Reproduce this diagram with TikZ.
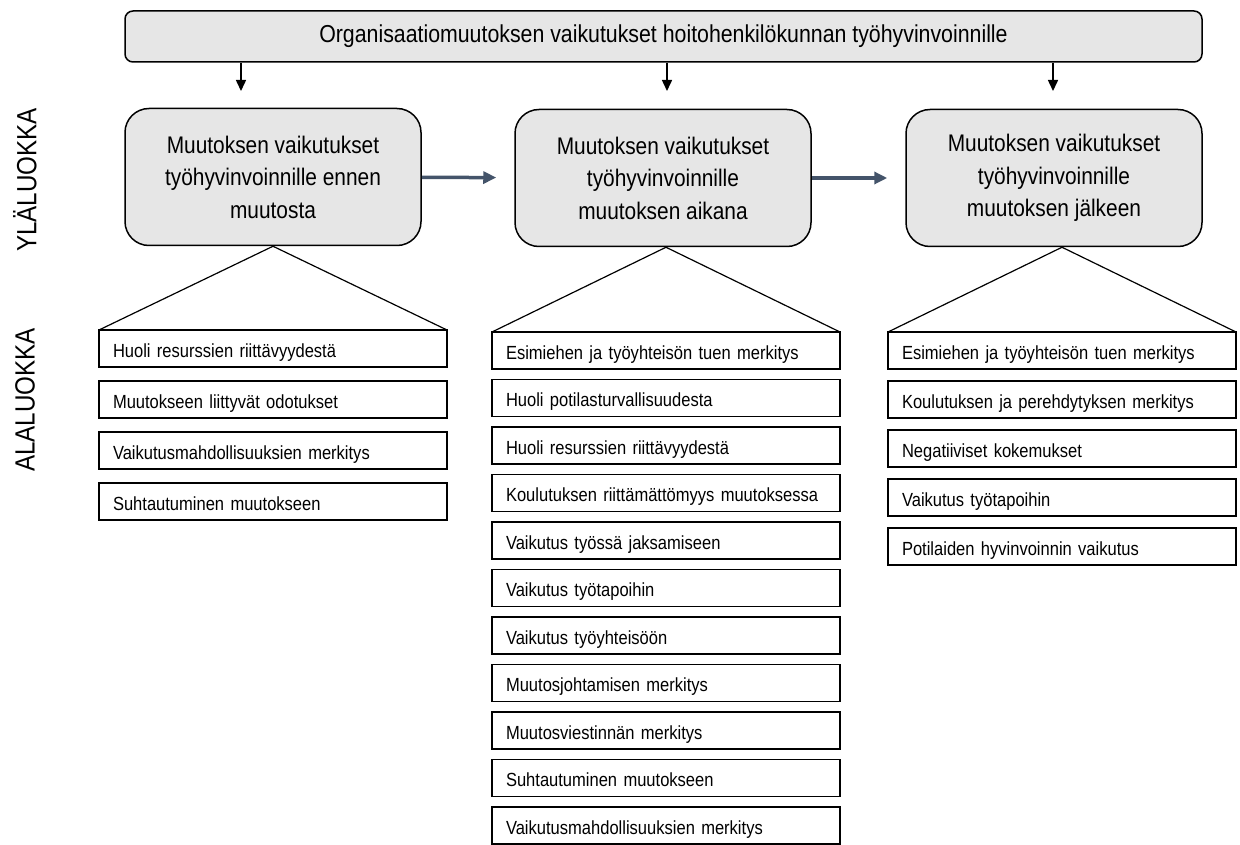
\documentclass[tikz,border=0pt]{standalone}
\usepackage{fontspec}
\setmainfont{Liberation Sans}[FakeStretch=0.87]
\usetikzlibrary{positioning,arrows.meta}
\definecolor{boxgray}{RGB}{230,230,230}
\definecolor{flowslate}{RGB}{68,84,106}

\begin{document}
\begin{tikzpicture}[
    x=1pt, y=-1pt,
    node distance=10pt,
    topbox/.style={rectangle, draw, line width=1.5pt, rounded corners=8pt, fill=boxgray, minimum width=1077pt, minimum height=51pt, font=\fontsize{24.5}{28}\selectfont},
    mainbox/.style={rectangle, draw, line width=1.5pt, rounded corners=24pt, fill=boxgray, minimum width=296pt, minimum height=137pt, align=center, font=\fontsize{24}{32.5}\selectfont},
    subbox/.style={rectangle, draw, line width=1.4pt, outer sep=0pt, text width=320pt, inner xsep=14pt, inner ysep=0pt, text height=17pt, text depth=0pt, minimum height=37pt, align=left, font=\fontsize{19}{23}\selectfont},
    sidelabel/.style={rotate=90, font=\fontsize{27.8}{31}\selectfont},
    stagearrow/.style={-{Triangle[length=13pt,width=12pt]}, line width=3.5pt, draw=flowslate, shorten >=18pt},
    droparrow/.style={-{Triangle[length=11pt,width=10pt]}, line width=1.5pt},
    fanline/.style={line width=1.2pt}
]
    \useasboundingbox (0,0) rectangle (1240,845);

    % Main theme
    \node[topbox] (top) at (663.5,36.5) {Organisaatiomuutoksen vaikutukset hoitohenkilökunnan työhyvinvoinnille};
    \coordinate (d1) at (241,91);
    \coordinate (d2) at (667,91);
    \coordinate (d3) at (1053,91);
    \draw[droparrow] (top.south -| d1) -- (d1);
    \draw[droparrow] (top.south -| d2) -- (d2);
    \draw[droparrow] (top.south -| d3) -- (d3);

    % Upper categories
    \node[mainbox] (before) at (273,177) {Muutoksen vaikutukset\\työhyvinvoinnille ennen\\muutosta};
    \node[mainbox] (during) at (663,178) {Muutoksen vaikutukset\\työhyvinvoinnille\\muutoksen aikana};
    \node[mainbox] (after) at (1054,178) {Muutoksen vaikutukset\\työhyvinvoinnille\\muutoksen jälkeen};
    \draw[stagearrow] (before) -- (during);
    \draw[stagearrow] (during) -- (after);

    % Side labels
    \node[sidelabel] (upperlabel) at (25,180) {YLÄLUOKKA};
    \node[sidelabel] (lowerlabel) at (25,400) {ALALUOKKA};

    % Subcategories before change
    \node[subbox, anchor=north] (bef1) at (273,330) {Huoli resurssien riittävyydestä};
    \node[subbox, below=14pt of bef1] (bef2) {Muutokseen liittyvät odotukset};
    \node[subbox, below=14pt of bef2] (bef3) {Vaikutusmahdollisuuksien merkitys};
    \node[subbox, below=14pt of bef3] (bef4) {Suhtautuminen muutokseen};
    \draw[fanline] (bef1.north west) -- (before.south -| bef1) -- (bef1.north east);

    % Subcategories during change
    \node[subbox, anchor=north] (dur1) at (666,332) {Esimiehen ja työyhteisön tuen merkitys};
    \node[subbox, below=10.5pt of dur1] (dur2) {Huoli potilasturvallisuudesta};
    \node[subbox, below=10.5pt of dur2] (dur3) {Huoli resurssien riittävyydestä};
    \node[subbox, below=10.5pt of dur3] (dur4) {Koulutuksen riittämättömyys muutoksessa};
    \node[subbox, below=10.5pt of dur4] (dur5) {Vaikutus työssä jaksamiseen};
    \node[subbox, below=10.5pt of dur5] (dur6) {Vaikutus työtapoihin};
    \node[subbox, below=10.5pt of dur6] (dur7) {Vaikutus työyhteisöön};
    \node[subbox, below=10.5pt of dur7] (dur8) {Muutosjohtamisen merkitys};
    \node[subbox, below=10.5pt of dur8] (dur9) {Muutosviestinnän merkitys};
    \node[subbox, below=10.5pt of dur9] (dur10) {Suhtautuminen muutokseen};
    \node[subbox, below=10.5pt of dur10] (dur11) {Vaikutusmahdollisuuksien merkitys};
    \draw[fanline] (dur1.north west) -- (during.south -| dur1) -- (dur1.north east);

    % Subcategories after change
    \node[subbox, anchor=north] (aft1) at (1062,332) {Esimiehen ja työyhteisön tuen merkitys};
    \node[subbox, below=12pt of aft1] (aft2) {Koulutuksen ja perehdytyksen merkitys};
    \node[subbox, below=12pt of aft2] (aft3) {Negatiiviset kokemukset};
    \node[subbox, below=12pt of aft3] (aft4) {Vaikutus työtapoihin};
    \node[subbox, below=12pt of aft4] (aft5) {Potilaiden hyvinvoinnin vaikutus};
    \draw[fanline] (aft1.north west) -- (after.south -| aft1) -- (aft1.north east);
\end{tikzpicture}
\end{document}
